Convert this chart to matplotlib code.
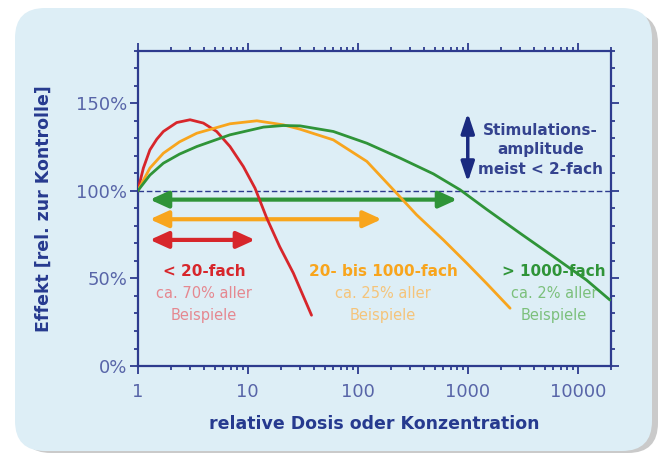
import matplotlib
matplotlib.use("Agg")
import matplotlib.pyplot as plt
from matplotlib.patches import FancyBboxPatch, FancyArrowPatch
from matplotlib.ticker import MultipleLocator, LogLocator, NullFormatter

# values
red_x = [1, 1.125, 1.29, 1.49, 1.71, 2.26, 2.99, 3.95, 5.22, 6.9, 9.12, 11.65, 14.9, 19.5, 26, 38]
red_y = [100, 113, 123.4, 129.5, 133.9, 139, 140.6, 138.7, 133.9, 125.3, 113.9, 101.5, 84.4, 68.2, 53, 29]

orange_x = [1, 1.29, 1.71, 2.4, 3.44, 6.9, 12.1, 21, 29.9, 60, 121, 211, 343, 600, 980, 1480, 2425]
orange_y = [100, 113, 121.5, 128, 132.9, 138.3, 140, 137.7, 135.2, 129.1, 116.8, 100.6, 86.3, 72, 58.7, 47.2, 33]

green_x = [1, 1.29, 1.71, 2.4, 3.44, 6.9, 13.9, 21, 29.9, 60, 121, 243, 487, 852, 1480, 2990, 6000, 12000, 19600]
green_y = [100, 109, 115.8, 121, 125.3, 132, 136.4, 137.3, 137.1, 133.9, 127.2, 118.7, 109.7, 100.6, 89.5, 75.8, 62.5, 49.1, 37.7]

# range arrows: (left, right, level)
red_range = (1.29, 11.65, 72)
orange_range = (1.29, 165, 83.8)
green_range = (1.29, 800, 95)

xticks = [1, 10, 100, 1000, 10000]
xtick_labels = ['1', '10', '100', '1000', '10000']
yticks = [0, 50, 100, 150]
ytick_labels = ['0%', '50%', '100%', '150%']

navy = '#2d3b8e'
red = '#d7262b'
orange = '#f8a51d'
green = '#2f9438'

fig = plt.figure(figsize=(6.59, 4.53), dpi=100)
fig.patch.set_facecolor('white')

# shadow + rounded light blue panel
shadow = FancyBboxPatch((0.21, 0.0), 6.37, 4.40, boxstyle="round,pad=0,rounding_size=0.3",
                        transform=fig.dpi_scale_trans, facecolor='#cacaca', edgecolor='none', zorder=-2)
panel = FancyBboxPatch((0.15, 0.02), 6.37, 4.43, boxstyle="round,pad=0,rounding_size=0.3",
                       transform=fig.dpi_scale_trans, facecolor='#ddeef6', edgecolor='none', zorder=-1)
fig.patches.append(shadow)
fig.patches.append(panel)

ax = fig.add_axes([0.209, 0.192, 0.718, 0.696])
ax.set_zorder(1)
ax.set_facecolor('none')
ax.set_xscale('log')
ax.set_xlim(1, 2e4)
ax.set_ylim(0, 180)

for s in ax.spines.values():
    s.set_color(navy)
    s.set_linewidth(1.6)

ax.set_xticks(xticks)
ax.set_xticklabels(xtick_labels)
ax.xaxis.set_minor_locator(LogLocator(base=10, subs=range(2, 10)))
ax.xaxis.set_minor_formatter(NullFormatter())
ax.set_yticks(yticks)
ax.set_yticklabels(ytick_labels)
ax.yaxis.set_minor_locator(MultipleLocator(10))

ax.tick_params(which='both', direction='out', top=True, right=True, color=navy, width=1.3)
ax.tick_params(which='major', length=5.5)
ax.tick_params(which='minor', length=3)
ax.tick_params(axis='x', which='major', pad=7, labelsize=13, labelcolor='#5865a8')
ax.tick_params(axis='y', which='major', pad=2, labelsize=13, labelcolor='#5865a8')

ax.set_xlabel('relative Dosis oder Konzentration', fontsize=12.5, fontweight='bold',
              color='#263a8f', labelpad=10)
ax.set_ylabel('Effekt [rel. zur Kontrolle]', fontsize=12.5, fontweight='bold',
              color='#263a8f', labelpad=17)

ax.axhline(100, color=navy, lw=1.0, ls=(0, (4, 2)), zorder=1)

arrow_style = '<|-|>,head_length=0.55,head_width=0.25'
for (x0, x1, yv), c in [(red_range, red), (orange_range, orange), (green_range, green)]:
    ax.add_patch(FancyArrowPatch((x0, yv), (x1, yv), arrowstyle=arrow_style, mutation_scale=20,
                                 color=c, lw=3, shrinkA=0, shrinkB=0, zorder=2))

ax.add_patch(FancyArrowPatch((1000, 105), (1000, 144.5), arrowstyle='<|-|>,head_length=0.6,head_width=0.2',
                             mutation_scale=20, color='#1a2a80', lw=2.5, shrinkA=0, shrinkB=0, zorder=2))
ax.text(4570, 123.4, 'Stimulations-\namplitude\nmeist < 2-fach', ha='center', va='center',
        fontsize=11, fontweight='bold', color='#34438f', linespacing=1.4)

ax.plot(red_x, red_y, color=red, lw=2, zorder=3, solid_capstyle='round', solid_joinstyle='round')
ax.plot(orange_x, orange_y, color=orange, lw=2, zorder=3, solid_capstyle='round', solid_joinstyle='round')
ax.plot(green_x, green_y, color=green, lw=2, zorder=3, solid_capstyle='round', solid_joinstyle='round')

groups = [
    (4.0, '< 20-fach', 'ca. 70% aller', red, '#e58890'),
    (170, '20- bis 1000-fach', 'ca. 25% aller', orange, '#f5c47a'),
    (6100, '> 1000-fach', 'ca. 2% aller', green, '#7cc07c'),
]
for xc, head, sub, c1, c2 in groups:
    ax.text(xc, 53.9, head, ha='center', va='center', fontsize=11, fontweight='bold', color=c1, zorder=1)
    ax.text(xc, 41.5, sub, ha='center', va='center', fontsize=10.5, color=c2, zorder=1)
    ax.text(xc, 29.1, 'Beispiele', ha='center', va='center', fontsize=10.5, color=c2, zorder=1)

fig.savefig('out.png', dpi=100)
